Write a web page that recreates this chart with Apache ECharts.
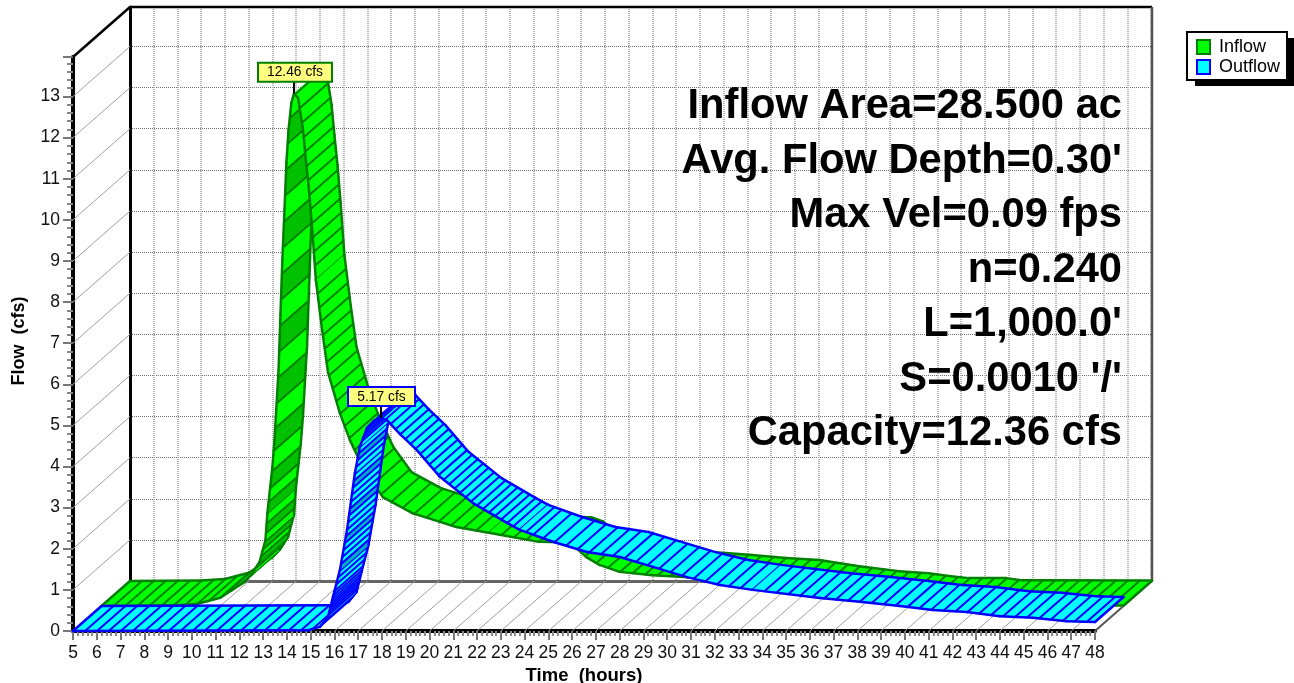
<!DOCTYPE html>
<html><head><meta charset="utf-8">
<style>html,body{margin:0;padding:0;background:#fff}#c{width:1294px;height:683px}</style>
<script src="https://cdn.jsdelivr.net/npm/echarts@6/dist/echarts.min.js"></script>
</head><body><div id="c"></div>
<script>
const hours = [5,6,7,8,9,10,11,12,13,14,15,16,17,18,19,20,21,22,23,24,25,26,27,28,29,30,31,32,33,34,35,36,37,38,39,40,41,42,43,44,45,46,47,48];
const flowLevels = [0,1,2,3,4,5,6,7,8,9,10,11,12,13];

const inflowTimes = [5,8,9,10,10.5,11,11.3,11.65,11.9,11.98,12.19,12.28,12.45,12.53,12.61,12.7,12.78,12.87,12.99,13.1,13.27,13.48,13.6,13.73,13.86,14.02,14.28,14.53,15.03,15.45,16.08,16.84,18.08,19.93,21.3,23.4,24.4,24.9,25.4,25.95,26.8,28.18,29.36,31.17,32.6,34,35.67,37.35,38.6,39.45,40.3,41.85,42.5,48];
const inflowValues = [0,0.01,0.05,0.2,0.39,0.58,0.76,1.07,1.61,2.26,3.38,4.04,5.74,7.08,8.42,9.64,10.78,11.58,12.24,12.46,12.36,11.58,10.85,10.12,9.2,7.93,6.72,5.69,4.69,4.04,3.26,2.65,2.26,1.92,1.78,1.56,1.55,1.45,1.19,1,0.83,0.75,0.71,0.63,0.56,0.51,0.36,0.24,0.19,0.12,0.07,0.07,0.02,0.01];

const outflowTimes = [5,14.55,14.89,15.39,15.73,15.94,16.23,16.53,16.86,17.07,17.37,17.66,17.96,18.21,18.76,19.47,20.44,21.83,23.26,23.8,25.19,26.62,28.01,29.4,30.83,32.22,33.6,36.43,38.1,39.79,41.18,42.61,44,45.39,46.82,48];
const outflowValues = [0,0.02,0.02,0.1,0.34,0.83,1.48,2.46,3.84,4.48,4.94,5.11,5.18,5.13,4.79,4.4,3.75,3.11,2.63,2.46,2.17,1.92,1.8,1.56,1.31,1.12,1,0.8,0.71,0.61,0.51,0.46,0.36,0.32,0.24,0.22];

const peakLabels = ['12.46 cfs','5.17 cfs'];
const notes = ['Inflow Area=28.500 ac','Avg. Flow Depth=0.30\'','Max Vel=0.09 fps','n=0.240','L=1,000.0\'','S=0.0010 \'/\'','Capacity=12.36 cfs'];

const FONT = '"Liberation Sans", Arial, sans-serif';
const DEPTH = [57,-50];

function hatchSpacing(table,t){
  if(t<=table[0][0]) return table[0][1];
  for(let i=1;i<table.length;i++){
    if(t<=table[i][0]){
      const a=table[i-1],b=table[i];
      return a[1]+(b[1]-a[1])*(t-a[0])/Math.max(b[0]-a[0],1e-6);
    }
  }
  return table[table.length-1][1];
}

function ribbon(name,times,values,cfg){
  let layout=null;
  const ox=DEPTH[0]*cfg.d0, oy=DEPTH[1]*cfg.d0, wx=DEPTH[0]*(cfg.d1-cfg.d0), wy=DEPTH[1]*(cfg.d1-cfg.d0);
  function build(api){
    const pts=times.map((t,i)=>{const p=api.coord([t,values[i]]);return [p[0]+ox,p[1]+oy];});
    const segs=[];let cell=0;let next=hatchSpacing(cfg.hatch,times[0]);
    for(let i=0;i<pts.length-1;i++){
      const a=pts[i],b=pts[i+1];
      const L=Math.hypot(b[0]-a[0],b[1]-a[1]);
      const stops=[0];let pos=0;const marks=[];
      while(pos+next<L){
        pos+=next;
        stops.push(pos/L);marks.push(pos/L);
        const t=times[i]+(times[i+1]-times[i])*pos/L;
        next=hatchSpacing(cfg.hatch,t);
      }
      const restL=L-pos;next-=restL;
      stops.push(1);
      const lerp=f=>[a[0]+(b[0]-a[0])*f,a[1]+(b[1]-a[1])*f];
      const cells=[];
      for(let k=0;k<stops.length-1;k++){
        const tm=times[i]+(times[i+1]-times[i])*(stops[k]+stops[k+1])/2;
        const alt=tm>=cfg.altFrom&&tm<=cfg.altTo&&(cell%cfg.altEvery===cfg.altEvery-1);
        const p=lerp(stops[k]),q=lerp(stops[k+1]);
        cells.push({pts:[p,q,[q[0]+wx,q[1]+wy],[p[0]+wx,p[1]+wy]],fill:alt?cfg.alt:cfg.fill});
        if(k<stops.length-2) cell++;
      }
      segs.push({a,b,cells,marks:marks.map(lerp)});
    }
    return segs;
  }
  const ln=(p,q,w,c)=>({type:'line',silent:true,shape:{x1:p[0],y1:p[1],x2:q[0],y2:q[1]},style:{stroke:c,lineWidth:w,lineCap:'round'}});
  return {
    name,type:'custom',coordinateSystem:'cartesian2d',xAxisIndex:0,yAxisIndex:0,z:cfg.z,clip:false,silent:true,
    itemStyle:{color:cfg.fill,borderColor:cfg.line,borderWidth:2},
    data:times.map((t,i)=>[t,values[i]]),encode:{x:0,y:1},
    renderItem(params,api){
      const i=params.dataIndex;
      if(i===0||!layout) layout=build(api);
      const ch=[];
      if(i>=layout.length){
        const e=layout[layout.length-1].b;
        return {type:'group',children:[ln(e,[e[0]+wx,e[1]+wy],cfg.edge,cfg.line)]};
      }
      const s=layout[i];
      s.cells.forEach(c=>ch.push({type:'polygon',silent:true,shape:{points:c.pts},style:{fill:c.fill,stroke:c.fill,lineWidth:0.6}}));
      s.marks.forEach(m=>ch.push(ln(m,[m[0]+wx,m[1]+wy],cfg.hatchW,cfg.line)));
      if(i===0) ch.push(ln(s.a,[s.a[0]+wx,s.a[1]+wy],cfg.edge,cfg.line));
      ch.push(ln(s.a,s.b,cfg.edge,cfg.line));
      ch.push(ln([s.a[0]+wx,s.a[1]+wy],[s.b[0]+wx,s.b[1]+wy],cfg.edge,cfg.line));
      return {type:'group',children:ch};
    }
  };
}

function wallFrame(){
  return {
    name:'frame',type:'custom',coordinateSystem:'cartesian2d',xAxisIndex:0,yAxisIndex:0,z:1,clip:false,silent:true,
    data:[[5,0]],encode:{x:0,y:1},
    renderItem(params,api){
      const ln=(p,q,w,c)=>({type:'line',silent:true,shape:{x1:p[0],y1:p[1],x2:q[0],y2:q[1]},style:{stroke:c,lineWidth:w}});
      const back=p=>[p[0]+DEPTH[0],p[1]+DEPTH[1]];
      const ch=[];
      flowLevels.forEach(v=>{const p=api.coord([5,v]);ch.push(ln(p,back(p),1,'#a0a0a0'));});
      hours.forEach(h=>{const p=api.coord([h,0]);ch.push(ln(p,back(p),1,'#a0a0a0'));});
      const tl=api.coord([5,13.96]),tr=api.coord([48,13.96]),br=api.coord([48,0]);
      ch.push(ln(tl,back(tl),2.5,'#000'));
      ch.push(ln(back(tl),back(tr),2.5,'#000'));
      ch.push(ln(back(tr),back(br),2.5,'#555'));
      ch.push(ln(br,back(br),2,'#555'));
      return {type:'group',children:ch};
    }
  };
}

function peakFlag(name,t,v,d,text,border,box){
  return {
    name,type:'custom',coordinateSystem:'cartesian2d',xAxisIndex:0,yAxisIndex:0,z:10,clip:false,silent:true,
    data:[[t,v]],encode:{x:0,y:1},
    renderItem(params,api){
      const p=api.coord([t,v]);const x=p[0]+DEPTH[0]*d,y=p[1]+DEPTH[1]*d;
      return {type:'group',children:[
        {type:'line',silent:true,shape:{x1:x,y1:y,x2:x,y2:y+box.y+box.h},style:{stroke:'#000',lineWidth:2}},
        {type:'rect',silent:true,shape:{x:x+box.x,y:y+box.y,width:box.w,height:box.h},style:{fill:'#ffff80',stroke:border,lineWidth:2}},
        {type:'text',silent:true,style:{text,x:x+box.x+box.w/2,y:y+box.y+box.h/2+0.5,align:'center',verticalAlign:'middle',font:'13.8px '+FONT,fill:'#000',textAlign:'center',textVerticalAlign:'middle'}}
      ]};
    }
  };
}

const chart=echarts.init(document.getElementById('c'),null,{renderer:'canvas'});
chart.setOption({
  animation:false,backgroundColor:'#fff',
  textStyle:{fontFamily:FONT},
  grid:[
    {left:73,top:57,width:1022,height:574,containLabel:false,outerBoundsMode:'none'},
    {left:130,top:7,width:1021,height:574,containLabel:false,outerBoundsMode:'none'}
  ],
  xAxis:[
    {type:'value',gridIndex:0,min:5,max:48,interval:1,name:'Time  (hours)',nameLocation:'middle',nameGap:33,
     nameTextStyle:{fontFamily:FONT,fontWeight:'bold',fontSize:18.5,color:'#000'},
     axisLine:{onZero:false,lineStyle:{color:'#000',width:4}},
     axisTick:{length:9,lineStyle:{color:'#777',width:2}},
     minorTick:{show:true,splitNumber:5,length:5,lineStyle:{color:'#888',width:2}},
     axisLabel:{fontFamily:FONT,fontSize:17.5,color:'#111',margin:13,interval:0,hideOverlap:false,showMinLabel:true,showMaxLabel:true},
     splitLine:{show:false}},
    {type:'value',gridIndex:1,min:5,max:48,interval:1,
     axisLine:{onZero:false,lineStyle:{color:'#666',width:3}},axisTick:{show:false},axisLabel:{show:false},
     splitLine:{show:true,lineStyle:{color:'#b4b4b4',width:2,type:[1,1]}}}
  ],
  yAxis:[
    {type:'value',gridIndex:0,min:0,max:13.96,interval:1,name:'Flow  (cfs)',nameLocation:'middle',nameGap:45,
     nameTextStyle:{fontFamily:FONT,fontWeight:'bold',fontSize:18,color:'#000',padding:[0,0,0,6]},
     axisLine:{onZero:false,lineStyle:{color:'#000',width:4}},
     axisTick:{length:10,lineStyle:{color:'#777',width:2}},
     minorTick:{show:true,splitNumber:5,length:6,lineStyle:{color:'#888',width:2}},
     axisLabel:{fontFamily:FONT,fontSize:17.5,color:'#111',margin:13,showMaxLabel:false},
     splitLine:{show:false}},
    {type:'value',gridIndex:1,min:0,max:13.96,interval:1,
     axisLine:{onZero:false,show:true,lineStyle:{color:'#000',width:3}},axisTick:{show:false},axisLabel:{show:false},
     splitLine:{show:true,lineStyle:{color:'#707070',width:1,type:[1,1]}}}
  ],
  legend:{
    left:1187,top:32,orient:'vertical',selectedMode:false,data:['Inflow','Outflow'],icon:'rect',z:20,
    itemWidth:13,itemHeight:14,itemGap:2,padding:[6,0,0,9],
    textStyle:{fontFamily:FONT,fontSize:18,color:'#000',padding:[0,0,0,4]}
  },
  graphic:[
    {type:'rect',silent:true,z:15,shape:{x:1195,y:38,width:100,height:48},style:{fill:'#000'}},
    {type:'rect',silent:true,z:16,shape:{x:1187,y:32,width:100,height:48},style:{fill:'#fff',stroke:'#000',lineWidth:2}}
  ].concat(notes.map((t,i)=>({type:'text',silent:true,x:1122,y:107+54.5*i,z:5,
    style:{text:t,textAlign:'right',textVerticalAlign:'middle',font:'bold 41.7px '+FONT,fill:'#000'}}))),
  series:[
    wallFrame(),
    ribbon('Inflow',inflowTimes,inflowValues,{d0:0.5,d1:1,z:3,fill:'#00ff00',alt:'#00c000',line:'#008000',edge:2.5,hatchW:2,altEvery:2,altFrom:11.4,altTo:13.11,
      hatch:[[11,12],[11.6,6],[11.9,9],[12,12],[12.15,20],[12.35,26],[13.1,26],[13.11,15],[15,13],[48,12]]}),
    ribbon('Outflow',outflowTimes,outflowValues,{d0:0,d1:0.5,z:4,fill:'#00ffff',alt:'#00b0c0',line:'#0000ff',edge:2.5,hatchW:2,altEvery:4,altFrom:16,altTo:17.2,
      hatch:[[15,12],[15.3,3],[15.95,3.5],[16,7],[17,7],[17.2,4],[18,4],[18.01,7],[24,7],[24.5,12],[48,12]]}),
    peakFlag('Inflow peak',inflowTimes[19],inflowValues[19],0.5,peakLabels[0],'#008000',{x:-36,y:-31,w:74,h:19}),
    peakFlag('Outflow peak',outflowTimes[12],outflowValues[12],0,peakLabels[1],'#0000ff',{x:-33,y:-31,w:67,h:19})
  ]
});
</script></body></html>
